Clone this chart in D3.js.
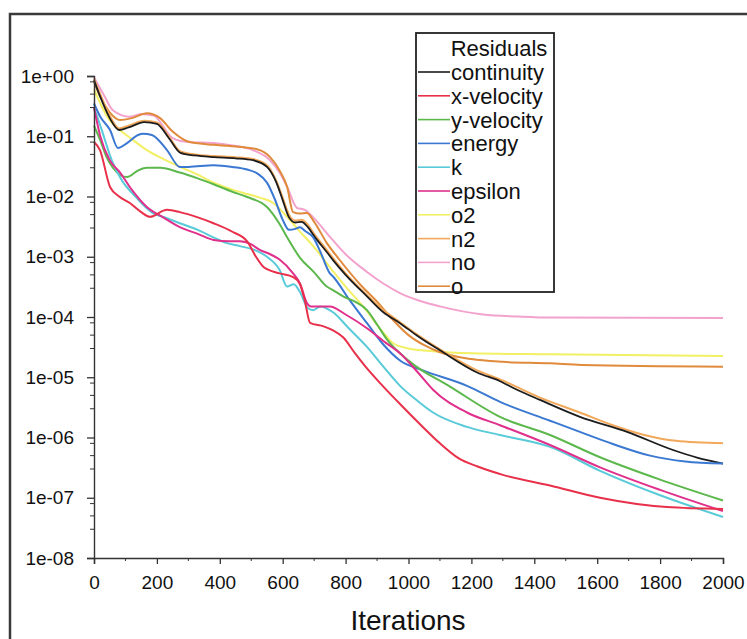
<!DOCTYPE html>
<html>
<head>
<meta charset="utf-8">
<script src="https://cdn.jsdelivr.net/npm/d3@7"></script>
<style>
  body { margin: 0; background: #fff; }
  svg { display: block; font-family: "Liberation Sans", Arial, sans-serif; }
</style>
</head>
<body>
<div id="main-container"></div>
<script>
const WIDTH = 747
const HEIGHT = 639
const X_RANGE = [94, 723]
const Y_RANGE = [558, 76]

const SERIES_NAMES = ['continuity', 'x-velocity', 'y-velocity', 'energy', 'k', 'epsilon', 'o2', 'n2', 'no', 'o']
const SERIES_COLORS = ['#1c1c1c', '#e8304a', '#5cb84c', '#3a78d2', '#58cad8', '#e0308c', '#f2f064', '#f2a85a', '#f2a2cc', '#e08a3c']
const X_TICKS = [0, 200, 400, 600, 800, 1000, 1200, 1400, 1600, 1800, 2000]
const Y_TICKS = [1e-8, 1e-7, 1e-6, 1e-5, 1e-4, 1e-3, 1e-2, 1e-1, 1]
const Y_TICK_LABELS = ['1e-08', '1e-07', '1e-06', '1e-05', '1e-04', '1e-03', '1e-02', '1e-01', '1e+00']

// [iteration, residual]
const CONTINUITY = [[0,0.85],[20,0.45],[50,0.2],[80,0.127],[110,0.14],[160,0.172],[200,0.16],[240,0.09],[275,0.053],[320,0.048],[380,0.045],[450,0.043],[505,0.04],[550,0.031],[580,0.017],[600,0.0087],[620,0.0045],[640,0.0037],[660,0.0038],[680,0.0031],[700,0.0022],[740,0.0012],[760,8.8e-4],[800,5e-4],[868,2.2e-4],[920,1.2e-4],[973,7.9e-5],[1030,4.8e-5],[1100,2.8e-5],[1218,1.2e-5],[1291,8.6e-6],[1345,6.2e-6],[1418,4.2e-6],[1545,2.2e-6],[1695,1.24e-6],[1841,6.2e-7],[1920,4.6e-7],[2000,3.7e-7]]
const X_VELOCITY = [[0,0.08],[19,0.059],[51,0.0144],[80,0.01],[114,0.0078],[150,0.0055],[178,0.0046],[232,0.006],[273,0.0055],[330,0.0045],[380,0.0036],[440,0.0026],[487,0.0018],[515,0.001],[540,6.7e-4],[590,5.3e-4],[633,4.6e-4],[655,3.5e-4],[670,1.9e-4],[687,8e-5],[730,7e-5],[760,6e-5],[792,4.6e-5],[830,2.5e-5],[868,1.4e-5],[920,7e-6],[973,3.6e-6],[1040,1.6e-6],[1100,8e-7],[1160,4.5e-7],[1220,3.3e-7],[1300,2.4e-7],[1450,1.6e-7],[1609,1e-7],[1822,7e-8],[2000,6.5e-8]]
const Y_VELOCITY = [[0,0.15],[20,0.085],[40,0.045],[60,0.03],[105,0.021],[140,0.027],[168,0.03],[210,0.03],[273,0.025],[330,0.02],[380,0.016],[440,0.012],[487,0.0098],[550,0.0067],[590,0.0035],[614,0.0021],[655,9.6e-4],[700,5.5e-4],[740,3.2e-4],[760,2.8e-4],[792,2.2e-4],[830,1.8e-4],[868,1.3e-4],[900,7.5e-5],[932,4.2e-5],[1005,1.8e-5],[1132,7e-6],[1291,2.2e-6],[1450,1.1e-6],[1609,4.7e-7],[1800,2e-7],[2000,9e-8]]
const ENERGY = [[0,0.35],[20,0.21],[51,0.127],[76,0.064],[105,0.077],[140,0.105],[156,0.11],[184,0.105],[232,0.059],[273,0.031],[300,0.031],[380,0.033],[440,0.031],[487,0.028],[520,0.024],[550,0.017],[575,0.009],[600,0.0041],[620,0.0028],[640,0.0029],[655,0.0031],[670,0.0027],[697,0.0021],[720,0.0012],[750,5.3e-4],[760,4.7e-4],[810,2e-4],[868,7.9e-5],[920,3.5e-5],[973,1.9e-5],[1046,1.3e-5],[1186,7.2e-6],[1291,3.9e-6],[1450,1.9e-6],[1545,1.24e-6],[1650,7.8e-7],[1768,5e-7],[1880,4e-7],[2000,3.7e-7]]
const K = [[0,0.3],[20,0.15],[60,0.036],[90,0.018],[124,0.011],[187,0.0053],[230,0.0044],[273,0.0036],[330,0.0028],[380,0.0021],[420,0.0017],[464,0.0015],[510,0.0013],[550,0.001],[590,6.1e-4],[614,3.2e-4],[635,3.5e-4],[655,2.6e-4],[680,1.4e-4],[697,1.3e-4],[720,1.5e-4],[760,1.2e-4],[810,6.5e-5],[868,3.2e-5],[920,1.5e-5],[973,7.2e-6],[1030,4e-6],[1078,2.6e-6],[1186,1.5e-6],[1291,1.1e-6],[1450,7e-7],[1609,2.8e-7],[1800,1.1e-7],[2000,4.8e-8]]
const EPSILON = [[0,0.3],[20,0.1],[50,0.04],[83,0.025],[120,0.013],[168,0.0067],[220,0.0045],[273,0.0031],[330,0.0024],[380,0.0019],[430,0.0018],[464,0.0018],[500,0.0016],[527,0.0013],[560,0.0011],[590,9e-4],[633,5.3e-4],[655,3.6e-4],[677,1.7e-4],[690,1.5e-4],[750,1.5e-4],[800,1.1e-4],[868,6.5e-5],[920,4e-5],[973,2.5e-5],[1030,1.2e-5],[1078,6.2e-6],[1186,2.6e-6],[1291,1.6e-6],[1450,7.5e-7],[1609,3.2e-7],[1800,1.35e-7],[2000,6e-8]]
const O2 = [[0,0.6],[19,0.36],[45,0.2],[73,0.14],[120,0.09],[168,0.059],[220,0.042],[273,0.031],[330,0.023],[380,0.017],[440,0.013],[487,0.011],[530,0.0095],[570,0.0078],[614,0.0046],[650,0.0028],[697,0.0015],[750,6.7e-4],[800,3.2e-4],[860,1.4e-4],[920,5.5e-5],[950,3.7e-5],[1000,3e-5],[1078,2.7e-5],[1200,2.5e-5],[1450,2.4e-5],[2000,2.26e-5]]
const N2 = [[0,0.9],[20,0.5],[50,0.22],[80,0.135],[110,0.15],[160,0.18],[200,0.17],[240,0.095],[275,0.056],[320,0.05],[380,0.047],[450,0.045],[505,0.042],[550,0.033],[580,0.018],[600,0.0095],[620,0.005],[640,0.004],[660,0.0041],[680,0.0034],[700,0.0024],[740,0.0013],[760,9.5e-4],[800,5.3e-4],[868,2.3e-4],[920,1.3e-4],[973,8.2e-5],[1030,5e-5],[1100,2.9e-5],[1218,1.3e-5],[1291,9.2e-6],[1418,4.6e-6],[1545,2.6e-6],[1650,1.6e-6],[1750,1.1e-6],[1850,8.8e-7],[2000,8e-7]]
const NO = [[0,0.95],[30,0.5],[60,0.27],[114,0.21],[150,0.235],[190,0.22],[250,0.093],[300,0.08],[380,0.077],[440,0.07],[505,0.059],[560,0.04],[590,0.025],[614,0.0145],[645,0.0065],[670,0.006],[697,0.0045],[755,0.002],[800,0.0011],[868,5.6e-4],[920,3.6e-4],[973,2.5e-4],[1030,1.9e-4],[1100,1.5e-4],[1237,1.1e-4],[1350,1.02e-4],[1450,9.8e-5],[2000,9.6e-5]]
const O = [[0,0.8],[20,0.45],[50,0.25],[83,0.186],[120,0.2],[168,0.24],[210,0.2],[250,0.12],[305,0.08],[380,0.072],[432,0.069],[518,0.061],[560,0.045],[590,0.027],[614,0.0145],[633,0.0055],[655,0.0052],[677,0.0053],[700,0.0038],[740,0.0017],[780,9e-4],[850,3.3e-4],[900,1.8e-4],[950,9e-5],[1000,5e-5],[1050,3.4e-5],[1100,2.6e-5],[1200,2e-5],[1300,1.8e-5],[1450,1.7e-5],[1550,1.6e-5],[2000,1.5e-5]]

const SERIES_DATA = [CONTINUITY, X_VELOCITY, Y_VELOCITY, ENERGY, K, EPSILON, O2, N2, NO, O]
// draw order: back to front roughly like the solver plot
const DRAW_ORDER = [8, 6, 9, 7, 0, 3, 2, 4, 5, 1]

const FONT = '"Liberation Sans", Arial, sans-serif'

const X_SCALE = d3.scaleLinear().domain([0, 2000]).range(X_RANGE)
const Y_SCALE = d3.scaleLog().domain([1e-8, 1]).range(Y_RANGE)

const SVG = d3.select('#main-container')
    .append('svg')
    .attr('width', WIDTH)
    .attr('height', HEIGHT)

SVG.append('rect').attr('width', WIDTH).attr('height', HEIGHT).attr('fill', '#fff')

// scanned page frame
SVG.append('path')
    .attr('d', 'M10,639 L10,14 L747,14')
    .attr('fill', 'none')
    .attr('stroke', '#3a3a3a')
    .attr('stroke-width', 2.5)

// curves
const line = d3.line()
    .x(d => X_SCALE(d[0]))
    .y(d => Y_SCALE(d[1]))
    .curve(d3.curveMonotoneX)

SVG.append('g')
    .selectAll('path')
    .data(DRAW_ORDER)
    .enter()
    .append('path')
    .attr('d', i => line(SERIES_DATA[i]))
    .attr('fill', 'none')
    .attr('stroke', i => SERIES_COLORS[i])
    .attr('stroke-width', i => i === 0 ? 1.8 : 2)
    .attr('stroke-linejoin', 'round')

// x axis
const xMinor = d3.range(100, 2000, 200)
const X_AXIS = d3.axisBottom(X_SCALE)
    .tickValues(X_TICKS)
    .tickSize(6)
    .tickPadding(12)
    .tickFormat(d3.format('d'))
const xg = SVG.append('g')
    .attr('transform', `translate(0, ${Y_RANGE[0]})`)
    .call(X_AXIS)
SVG.append('g')
    .selectAll('line')
    .data(xMinor)
    .enter()
    .append('line')
    .attr('x1', d => X_SCALE(d))
    .attr('x2', d => X_SCALE(d))
    .attr('y1', Y_RANGE[0])
    .attr('y2', Y_RANGE[0] + 3)
    .attr('stroke', '#333')

// y axis
const Y_AXIS = d3.axisLeft(Y_SCALE)
    .tickValues(Y_TICKS)
    .tickSize(7)
    .tickPadding(13)
    .tickFormat((d, i) => Y_TICK_LABELS[i])
const yg = SVG.append('g')
    .attr('transform', `translate(${X_RANGE[0]}, 0)`)
    .call(Y_AXIS)

const yMinor = []
Y_TICKS.slice(0, -1).forEach(t => [3, 5, 8].forEach(m => yMinor.push(t * m)))
SVG.append('g')
    .selectAll('line')
    .data(yMinor)
    .enter()
    .append('line')
    .attr('x1', X_RANGE[0] - 4)
    .attr('x2', X_RANGE[0])
    .attr('y1', d => Y_SCALE(d))
    .attr('y2', d => Y_SCALE(d))
    .attr('stroke', '#333')

for (const g of [xg, yg]) {
    g.select('.domain').attr('stroke', '#333').attr('stroke-width', 1.4)
    g.selectAll('.tick line').attr('stroke', '#333').attr('stroke-width', 1.3)
    g.selectAll('.tick text')
        .attr('fill', '#111')
        .style('font-size', '19px')
        .style('font-family', FONT)
}

SVG.append('text')
    .attr('x', 408)
    .attr('y', 630)
    .attr('text-anchor', 'middle')
    .style('font-size', '28px')
    .style('font-family', FONT)
    .attr('fill', '#111')
    .text('Iterations')

// legend
const LEGEND = SVG.append('g').attr('transform', 'translate(416, 33)')
LEGEND.append('rect')
    .attr('width', 138)
    .attr('height', 259)
    .attr('fill', '#fff')
    .attr('stroke', '#222')
    .attr('stroke-width', 1.8)
LEGEND.append('text')
    .attr('x', 83)
    .attr('y', 23)
    .attr('text-anchor', 'middle')
    .style('font-size', '22px')
    .style('font-family', FONT)
    .attr('fill', '#111')
    .text('Residuals')
const items = LEGEND.selectAll('g.item')
    .data(SERIES_NAMES)
    .enter()
    .append('g')
    .attr('class', 'item')
    .attr('transform', (_, i) => `translate(0, ${39 + i * 23.8})`)
items.append('line')
    .attr('x1', 2)
    .attr('x2', 34)
    .attr('y1', 0)
    .attr('y2', 0)
    .attr('stroke', (_, i) => SERIES_COLORS[i])
    .attr('stroke-width', 1.6)
items.append('text')
    .attr('x', 35)
    .attr('y', 8)
    .style('font-size', '22px')
    .style('font-family', FONT)
    .attr('fill', '#111')
    .text(d => d)
</script>
</body>
</html>
